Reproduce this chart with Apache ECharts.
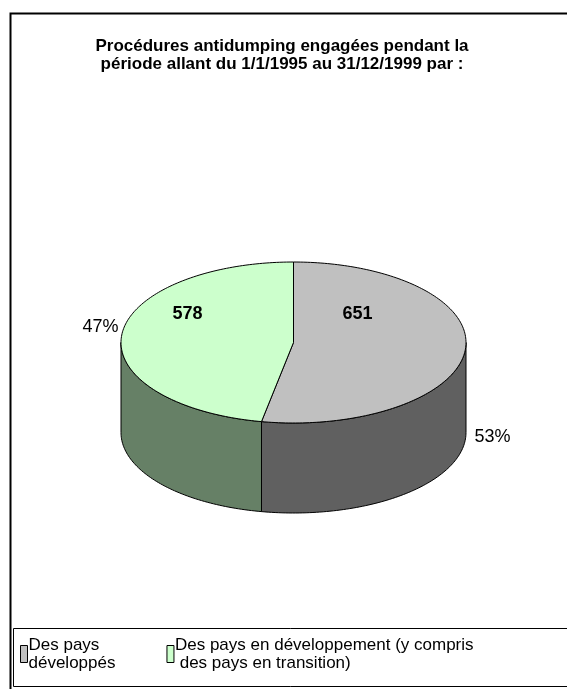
<!DOCTYPE html>
<html>
<head>
<meta charset="utf-8">
<script src="https://cdn.jsdelivr.net/npm/echarts@6/dist/echarts.min.js"></script>
<style>
html,body{margin:0;padding:0;background:#fff;}
#chart{width:567px;height:689px;}
</style>
</head>
<body>
<div id="chart"></div>
<script>
// ---- data ----
var categories = ['Des pays développés', 'Des pays en développement (y compris des pays en transition)'];
var legendLabels = ['Des pays\ndéveloppés', 'Des pays en développement (y compris\n des pays en transition)'];
var values = [651, 578];
var percentLabels = ['53%', '47%'];
var titleText = 'Procédures antidumping engagées pendant la\npériode allant du 1/1/1995 au 31/12/1999 par :';

// ---- styles / layout ----
var topColors = ['#C0C0C0', '#CCFFCC'];
var sideColors = ['#606060', '#668066'];
var FONT = 'Liberation Sans, Arial, sans-serif';
var PIE = {cx: 293.5, cy: 342.5, rx: 172.5, ry: 80.5, depth: 90};
// label offsets relative to pie centre (layout only)
var valueLabelOffset = [[64, -28], [-106, -28]];
var pctLabelOffset = [[199, 95], [-193, -15]];

var total = values.reduce(function (a, b) { return a + b; }, 0);

function pt(theta, dy) {
  return [PIE.cx + PIE.rx * Math.sin(theta), PIE.cy - PIE.ry * Math.cos(theta) + (dy || 0)];
}
function arcPts(a, b, dy) {
  var n = Math.max(2, Math.ceil(Math.abs(b - a) / 0.02));
  var out = [];
  for (var i = 0; i <= n; i++) out.push(pt(a + (b - a) * i / n, dy));
  return out;
}

function makeRender(si) {
  return function (params, api) {
    var v = api.value(0);
    var before = 0;
    for (var k = 0; k < si; k++) before += values[k];
    var a0 = before / total * Math.PI * 2;
    var a1 = (before + v) / total * Math.PI * 2;
    var children = [];
    // visible side part: theta in [PI/2, 3PI/2]
    var s0 = Math.max(a0, Math.PI / 2), s1 = Math.min(a1, Math.PI * 1.5);
    if (s1 > s0) {
      var topArc = arcPts(s0, s1, 0);
      var botArc = arcPts(s1, s0, PIE.depth);
      children.push({
        type: 'polygon', z2: 1,
        shape: {points: topArc.concat(botArc)},
        style: {fill: sideColors[si], stroke: '#000', lineWidth: 1}
      });
    }
    var top = [[PIE.cx, PIE.cy]].concat(arcPts(a0, a1, 0));
    children.push({
      type: 'polygon', z2: 2,
      shape: {points: top},
      style: {fill: topColors[si], stroke: '#000', lineWidth: 1, lineJoin: 'round'}
    });
    children.push({
      type: 'text', z2: 3,
      x: PIE.cx + valueLabelOffset[si][0], y: PIE.cy + valueLabelOffset[si][1],
      style: {text: String(v), font: 'bold 18px ' + FONT, fill: '#000', align: 'center', verticalAlign: 'middle'}
    });
    children.push({
      type: 'text', z2: 3,
      x: PIE.cx + pctLabelOffset[si][0], y: PIE.cy + pctLabelOffset[si][1],
      style: {text: percentLabels[si], font: '18px ' + FONT, fill: '#000', align: 'center', verticalAlign: 'middle'}
    });
    return {type: 'group', children: children};
  };
}

var chart = echarts.init(document.getElementById('chart'), null, {renderer: 'canvas'});
var series = categories.map(function (name, i) {
  return {
    type: 'custom',
    name: name,
    coordinateSystem: 'none',
    itemStyle: {color: topColors[i], borderColor: '#000', borderWidth: 1},
    renderItem: makeRender(i),
    data: [[values[i]]],
    silent: true,
    animation: false
  };
});

chart.setOption({
  backgroundColor: '#fff',
  animation: false,
  title: {
    text: titleText,
    left: 282, top: 37, padding: 0,
    textAlign: 'center',
    textStyle: {fontFamily: FONT, fontSize: 17, fontWeight: 'bold', lineHeight: 18, color: '#000'}
  },
  legend: {
    data: categories,
    left: 20, top: 636,
    orient: 'horizontal',
    itemWidth: 7, itemHeight: 17,
    itemGap: 51,
    padding: 0,
    icon: 'rect',
    selectedMode: false,
    itemStyle: {borderColor: '#000', borderWidth: 1},
    formatter: function (name) { return legendLabels[categories.indexOf(name)]; },
    textStyle: {fontFamily: FONT, fontSize: 17, lineHeight: 18, color: '#000', padding: [0, 0, 0, -4]}
  },
  graphic: [
    {type: 'rect', shape: {x: 10.5, y: 13.5, width: 600, height: 700}, style: {fill: 'none', stroke: '#000', lineWidth: 2}, z: -10},
    {type: 'rect', shape: {x: 13.5, y: 628.5, width: 600, height: 58}, style: {fill: 'none', stroke: '#000', lineWidth: 1}, z: -9}
  ],
  series: series
});
</script>
</body>
</html>
